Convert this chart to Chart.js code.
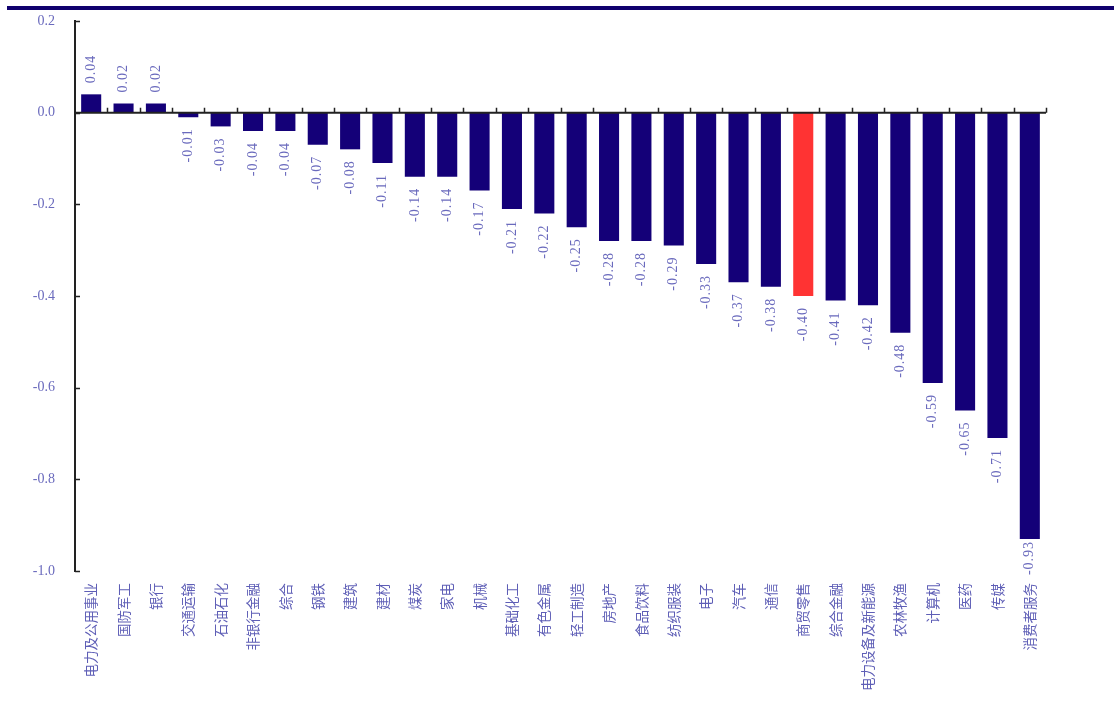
<!DOCTYPE html>
<html>
<head>
<meta charset="utf-8">
<script src="https://cdn.jsdelivr.net/npm/chart.js@4.4.1/dist/chart.umd.min.js"></script>
<style>
  html, body { margin: 0; padding: 0; background: #ffffff; }
  #wrap { width: 1114px; height: 715px; position: relative; }
</style>
</head>
<body>
<div id="wrap"><canvas id="c"></canvas></div>
<script>
const categories = ["电力及公用事业","国防军工","银行","交通运输","石油石化","非银行金融","综合","钢铁","建筑","建材","煤炭","家电","机械","基础化工","有色金属","轻工制造","房地产","食品饮料","纺织服装","电子","汽车","通信","商贸零售","综合金融","电力设备及新能源","农林牧渔","计算机","医药","传媒","消费者服务"];
const values = [0.04,0.02,0.02,-0.01,-0.03,-0.04,-0.04,-0.07,-0.08,-0.11,-0.14,-0.14,-0.17,-0.21,-0.22,-0.25,-0.28,-0.28,-0.29,-0.33,-0.37,-0.38,-0.40,-0.41,-0.42,-0.48,-0.59,-0.65,-0.71,-0.93];
const highlight = ["商贸零售"];
const yTicks = [0.2, 0.0, -0.2, -0.4, -0.6, -0.8, -1.0];

const NAVY = "#140078";
const RED = "#ff3333";
const TEXT = "#6a6abd";
const CAT_TEXT = "#5e5eb6";

const decor = {
  id: "decor",
  beforeDraw(chart) {
    const ctx = chart.ctx;
    ctx.save();
    ctx.fillStyle = "#10006e";
    ctx.fillRect(7, 6, chart.width - 7, 4);
    ctx.restore();
  },
  afterDatasetsDraw(chart) {
    const ctx = chart.ctx;
    const y = chart.scales.y;
    const area = chart.chartArea;
    const y0 = y.getPixelForValue(0);
    ctx.save();
    // zero line
    ctx.strokeStyle = "#222";
    ctx.lineWidth = 2;
    ctx.beginPath();
    ctx.moveTo(area.left, y0);
    ctx.lineTo(area.right, y0);
    ctx.stroke();
    // category boundary ticks (upward)
    const w = (area.right - area.left) / categories.length;
    ctx.lineWidth = 1.5;
    ctx.beginPath();
    for (let i = 1; i <= categories.length; i++) {
      const px = Math.round(area.left + i * w) + 0.5;
      ctx.moveTo(px, y0);
      ctx.lineTo(px, y0 - 5);
    }
    ctx.stroke();
    // y ticks inward
    ctx.beginPath();
    yTicks.forEach(v => {
      const py = Math.round(y.getPixelForValue(v)) + 0.5;
      ctx.moveTo(area.left, py);
      ctx.lineTo(area.left + 5, py);
    });
    ctx.stroke();
    // data labels
    const meta = chart.getDatasetMeta(0);
    ctx.fillStyle = TEXT;
    ctx.font = "14px 'Liberation Serif', 'DejaVu Serif', serif";
    try { ctx.letterSpacing = "1px"; } catch (e) {}
    ctx.textBaseline = "middle";
    meta.data.forEach((bar, i) => {
      const v = values[i];
      const txt = v.toFixed(2);
      const len = ctx.measureText(txt).width;
      ctx.save();
      if (v >= 0) {
        ctx.translate(bar.x, bar.y - 11);
        ctx.rotate(-Math.PI / 2);
        ctx.textAlign = "left";
      } else {
        let start = bar.y + 11;
        if (start + len > area.bottom - 4) start = Math.max(bar.y + 2, area.bottom - 4 - len);
        ctx.translate(bar.x, start);
        ctx.rotate(-Math.PI / 2);
        ctx.textAlign = "right";
      }
      ctx.fillText(txt, 0, 0);
      ctx.restore();
    });
    ctx.restore();
  }
};

new Chart(document.getElementById("c"), {
  type: "bar",
  data: {
    labels: categories,
    datasets: [{
      data: values,
      backgroundColor: categories.map(c => highlight.includes(c) ? RED : NAVY),
      borderWidth: 0,
      categoryPercentage: 1.0,
      barPercentage: 0.62
    }]
  },
  options: {
    responsive: true,
    maintainAspectRatio: false,
    animation: false,
    events: [],
    layout: { padding: { top: 21, right: 68, left: 0, bottom: 0 } },
    plugins: { legend: { display: false }, tooltip: { enabled: false } },
    scales: {
      x: {
        position: "bottom",
        grid: { display: false, drawTicks: false },
        border: { display: false },
        ticks: {
          autoSkip: false,
          minRotation: 90,
          maxRotation: 90,
          padding: 12,
          color: CAT_TEXT,
          font: { family: "'Noto Sans CJK SC', sans-serif", size: 13.5 }
        },
        afterFit(s) { s.height = 144; s.paddingLeft = 0; s.paddingRight = 0; }
      },
      y: {
        min: -1.0,
        max: 0.2,
        afterBuildTicks(s) { s.ticks = yTicks.map(v => ({ value: v })); },
        grid: { display: false, drawTicks: false },
        border: { display: true, color: "#222", width: 2 },
        ticks: {
          padding: 20,
          color: TEXT,
          font: { family: "'Liberation Serif', 'DejaVu Serif', serif", size: 14 },
          callback: v => Number(v).toFixed(1)
        },
        afterFit(s) { s.width = 75; s.paddingTop = 0; s.paddingBottom = 0; }
      }
    }
  },
  plugins: [decor]
});
</script>
</body>
</html>
